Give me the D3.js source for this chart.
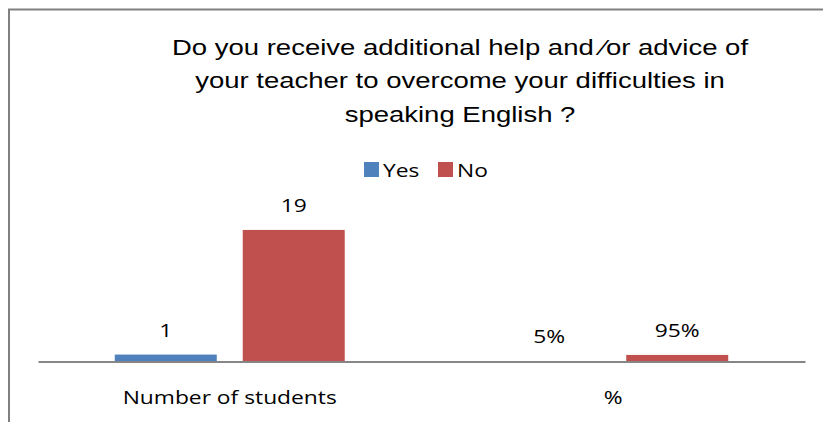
<!DOCTYPE html>
<html>
<head>
<meta charset="utf-8">
<script src="https://cdn.jsdelivr.net/npm/d3@7/dist/d3.min.js"></script>
<style>
  html, body { margin: 0; padding: 0; background: #fff; }
  svg { display: block; }
</style>
</head>
<body>
<svg id="chart" width="823" height="422"></svg>
<script>
// ---- data ----
const titleLines = [
  "Do you receive additional help and \u2044or advice of",
  "your teacher to overcome your difficulties in",
  "speaking English ?"
];
const categories = ["Number of students", "%"];
const seriesNames = ["Yes", "No"];
const yesValues = [1, 0.05];
const noValues = [19, 0.95];
const yesLabels = ["1", "5%"];
const noLabels = ["19", "95%"];
const yMax = 20;

const colors = { "Yes": "#4F81BD", "No": "#C0504D" };
const labelFont = "'Open Sans', 'Noto Sans', sans-serif";
const sxLabel = 1.2;   // horizontal stretch of the reference text
const sxTitle = 1.25;

const svg = d3.select("#chart");

// border
svg.append("rect")
  .attr("x", 9).attr("y", 9.5)
  .attr("width", 830).attr("height", 430)
  .attr("fill", "none")
  .attr("stroke", "#808080")
  .attr("stroke-width", 2);

// title
svg.append("g").selectAll("text")
  .data(titleLines)
  .join("text")
  .attr("transform", (d, i) => `translate(460,${54.5 + i * 33.5}) scale(${sxTitle},1)`)
  .attr("text-anchor", "middle")
  .attr("font-family", "'Liberation Sans', Arial, sans-serif")
  .attr("font-size", 22)
  .attr("fill", "#000")
  .text(d => d);

// scales
const plotLeft = 38, plotRight = 805, baseY = 361.5, plotTop = 223;
const x0 = d3.scaleBand().domain(categories).range([plotLeft, plotRight]).padding(0);
const x1 = d3.scaleBand().domain(seriesNames).range([0, x0.bandwidth()])
  .paddingInner(0.203).paddingOuter(0.6);
const y = d3.scaleLinear().domain([0, yMax]).range([baseY, plotTop]);

const rows = categories.map((c, i) => ({
  cat: c,
  vals: [
    { s: "Yes", v: yesValues[i], label: yesLabels[i] },
    { s: "No", v: noValues[i], label: noLabels[i] }
  ]
}));

const groups = svg.append("g").selectAll("g")
  .data(rows)
  .join("g")
  .attr("transform", d => `translate(${x0(d.cat)},0)`);

groups.selectAll("rect")
  .data(d => d.vals)
  .join("rect")
  .attr("x", d => x1(d.s))
  .attr("width", x1.bandwidth())
  .attr("y", d => y(d.v))
  .attr("height", d => y(0) - y(d.v))
  .attr("fill", d => colors[d.s]);

groups.selectAll("text")
  .data(d => d.vals)
  .join("text")
  .attr("transform", d => `translate(${x1(d.s) + x1.bandwidth() / 2},${y(d.v) - 18}) scale(${sxLabel},1)`)
  .attr("text-anchor", "middle")
  .attr("font-family", labelFont)
  .attr("font-size", 19)
  .attr("fill", "#000")
  .text(d => d.label);

// x axis
const xAxis = d3.axisBottom(x0).tickSize(0).tickPadding(0);
const axisG = svg.append("g")
  .attr("transform", `translate(0,${baseY})`)
  .call(xAxis);
axisG.select(".domain")
  .attr("stroke", "#868686")
  .attr("stroke-width", 2);
axisG.selectAll(".tick text")
  .attr("y", 0)
  .attr("dy", 0)
  .attr("transform", `translate(0,42.5) scale(${sxLabel},1)`)
  .attr("font-family", labelFont)
  .attr("font-size", 19)
  .attr("fill", "#000");

// legend
const legend = svg.append("g");
const legendItems = [
  { s: "Yes", x: 364 },
  { s: "No", x: 438 }
];
legend.selectAll("rect")
  .data(legendItems)
  .join("rect")
  .attr("x", d => d.x).attr("y", 162)
  .attr("width", 15).attr("height", 15)
  .attr("fill", d => colors[d.s]);
legend.selectAll("text")
  .data(legendItems)
  .join("text")
  .attr("transform", d => `translate(${d.x + 19},177) scale(${sxLabel},1)`)
  .attr("font-family", labelFont)
  .attr("font-size", 19)
  .attr("fill", "#000")
  .text(d => d.s);
</script>
</body>
</html>
